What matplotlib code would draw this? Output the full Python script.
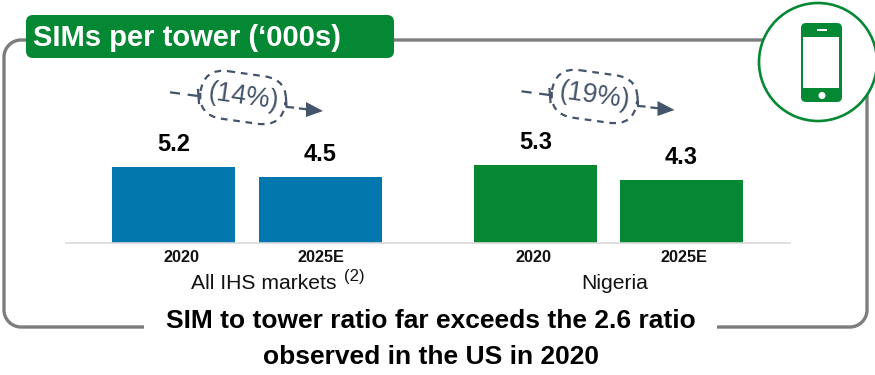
import matplotlib
matplotlib.use("Agg")
import matplotlib.pyplot as plt
from matplotlib.patches import Circle, FancyBboxPatch, PathPatch, Polygon, Rectangle
from matplotlib.path import Path
from matplotlib.transforms import Affine2D

plt.rcParams["font.family"] = ["Liberation Sans", "DejaVu Sans"]

# Chart data
periods = ["2020", "2025E", "2020", "2025E"]
sims_per_tower = [5.2, 4.5, 5.3, 4.3]
value_labels = ["5.2", "4.5", "5.3", "4.3"]
markets = ["All IHS markets", "Nigeria"]
changes = ["(14%)", "(19%)"]
title = "SIMs per tower (\u2018000s)"
takeaway = ["SIM to tower ratio far exceeds the 2.6 ratio", "observed in the US in 2020"]

BLUE = "#0277ad"
GREEN = "#058833"
GREY = "#7f7c7c"
SLATE = "#44546a"
W, H = 875, 375
PT = 0.72  # points per pixel at 100 dpi

fig = plt.figure(figsize=(W / 100, H / 100), dpi=100, facecolor="white")

# Annotation layer, measured in figure pixels from the top-left corner
ov = fig.add_axes([0, 0, 1, 1], zorder=1)
ov.set_xlim(0, W)
ov.set_ylim(H, 0)
ov.axis("off")

# Bar layer
left, right, base, top = 66, 790, 243, 100
ax = fig.add_axes([left / W, 1 - base / H, (right - left) / W, (base - top) / H], zorder=2)
ax.patch.set_alpha(0)
pitch = 147.0
positions = [0, 1, 2.463, 3.456]
colors = [BLUE, BLUE, GREEN, GREEN]
bars = ax.bar(positions, sims_per_tower, width=123 / pitch, color=colors, linewidth=0)
ax.set_xlim((left - 173.5) / pitch, (right - 173.5) / pitch)
ax.set_ylim(0, (base - top) / 14.67)
ax.set_yticks([])
for side in ("left", "right", "top"):
    ax.spines[side].set_visible(False)
ax.spines["bottom"].set_color("#d9d9d9")
ax.spines["bottom"].set_linewidth(1.2)
ax.set_xticks(positions, [""] * len(positions))
ax.tick_params(axis="x", length=0)

# Period labels sit slightly off their bar centres
label_shift = [8, 0, -2.5, 2]
for pos, text, shift in zip(positions, periods, label_shift):
    ax.annotate(text, (pos, 0), xytext=(shift * PT, -15 * PT), textcoords="offset points",
                ha="center", va="center", fontsize=11.7, fontweight="bold", color="#111111",
                annotation_clip=False)
for rect, text in zip(bars, value_labels):
    ax.annotate(text, (rect.get_x() + rect.get_width() / 2, rect.get_height()),
                xytext=(0, 22.5 * PT), textcoords="offset points",
                ha="center", va="center", fontsize=17, fontweight="bold", color="black")

# Outer rounded frame, broken at the bottom for the takeaway text
fx0, fy0, fx1, fy1, r = 4, 40, 867, 327, 17
k = 0.45 * r
frame_verts = [
    (144, fy1), (fx0 + r, fy1),
    (fx0 + k, fy1), (fx0, fy1 - k), (fx0, fy1 - r),
    (fx0, fy0 + r),
    (fx0, fy0 + k), (fx0 + k, fy0), (fx0 + r, fy0),
    (fx1, fy0), (fx1, fy1 - r),
    (fx1, fy1 - k), (fx1 - k, fy1), (fx1 - r, fy1),
    (717, fy1),
]
frame_codes = [Path.MOVETO, Path.LINETO, Path.CURVE4, Path.CURVE4, Path.CURVE4, Path.LINETO,
               Path.CURVE4, Path.CURVE4, Path.CURVE4, Path.LINETO, Path.LINETO,
               Path.CURVE4, Path.CURVE4, Path.CURVE4, Path.LINETO]
ov.add_patch(PathPatch(Path(frame_verts, frame_codes), fill=False, edgecolor=GREY, linewidth=2.4))

# Title tab
ov.add_patch(FancyBboxPatch((32, 21), 356, 31, boxstyle="round,pad=6,rounding_size=7",
                            facecolor=GREEN, edgecolor="none"))
ov.text(33, 38.5, title, color="white", fontsize=21, fontweight="bold", ha="left", va="center")

# Phone badge
ov.add_patch(Circle((818, 62), 59, facecolor="white", edgecolor=GREEN, linewidth=1.9))
ov.add_patch(FancyBboxPatch((803, 25), 37, 75, boxstyle="round,pad=2,rounding_size=5",
                            facecolor=GREEN, edgecolor="none"))
ov.add_patch(Rectangle((803, 37), 36, 51, facecolor="white", edgecolor="none"))
ov.add_patch(Rectangle((817, 29), 10, 2.2, facecolor="white", edgecolor="none"))
ov.add_patch(Circle((822, 95.5), 3.5, facecolor="white", edgecolor="none"))

# Dashed change callouts with a trailing arrow
dash = (0, (3.0, 2.6))
for change, dx, dy in zip(changes, (0, 351.5), (0, -1)):
    cx, cy = 243 + dx, 97.5 + dy
    blob = FancyBboxPatch((cx - 31, cy - 12), 62, 24, boxstyle="round,pad=12,rounding_size=25",
                          fill=False, edgecolor=SLATE, linewidth=1.6, linestyle=dash,
                          transform=Affine2D().rotate_deg_around(cx, cy, 8) + ov.transData)
    ov.add_patch(blob)
    ov.text(cx, cy, change, color=SLATE, fontsize=19.2, rotation=-8,
            rotation_mode="anchor", ha="center", va="center")
    ov.plot([170 + dx, 198 + dx], [92.3 + dy, 96 + dy], color=SLATE, lw=1.6,
            linestyle=(0, (4.6, 3.4)))
    ov.plot([198 + dx, 199 + dx], [90 + dy, 103 + dy], color=SLATE, lw=1.6)
    ov.plot([286 + dx, 286.5 + dx, 293 + dx], [98 + dy, 107 + dy, 107.5 + dy], color=SLATE, lw=1.6)
    ov.plot([300 + dx, 307 + dx], [108.5 + dy, 109.3 + dy], color=SLATE, lw=1.6)
    ov.add_patch(Polygon([(306 + dx, 102 + dy), (323 + dx, 111 + dy), (306 + dx, 117 + dy)],
                         closed=True, facecolor=SLATE, edgecolor="none"))

# Market captions
ov.text(264, 283.5, markets[0], fontsize=15.2, color="#111111", ha="center", va="center")
ov.text(354.5, 276, "(2)", fontsize=12, color="#111111", ha="center", va="center")
ov.text(615, 283.5, markets[1], fontsize=15.2, color="#111111", ha="center", va="center")

# Takeaway
ov.text(431, 320.5, takeaway[0], fontsize=19, fontweight="bold", color="black", ha="center", va="center")
ov.text(431, 356.5, takeaway[1], fontsize=19, fontweight="bold", color="black", ha="center", va="center")

fig.savefig("out.png", dpi=100, facecolor="white")
